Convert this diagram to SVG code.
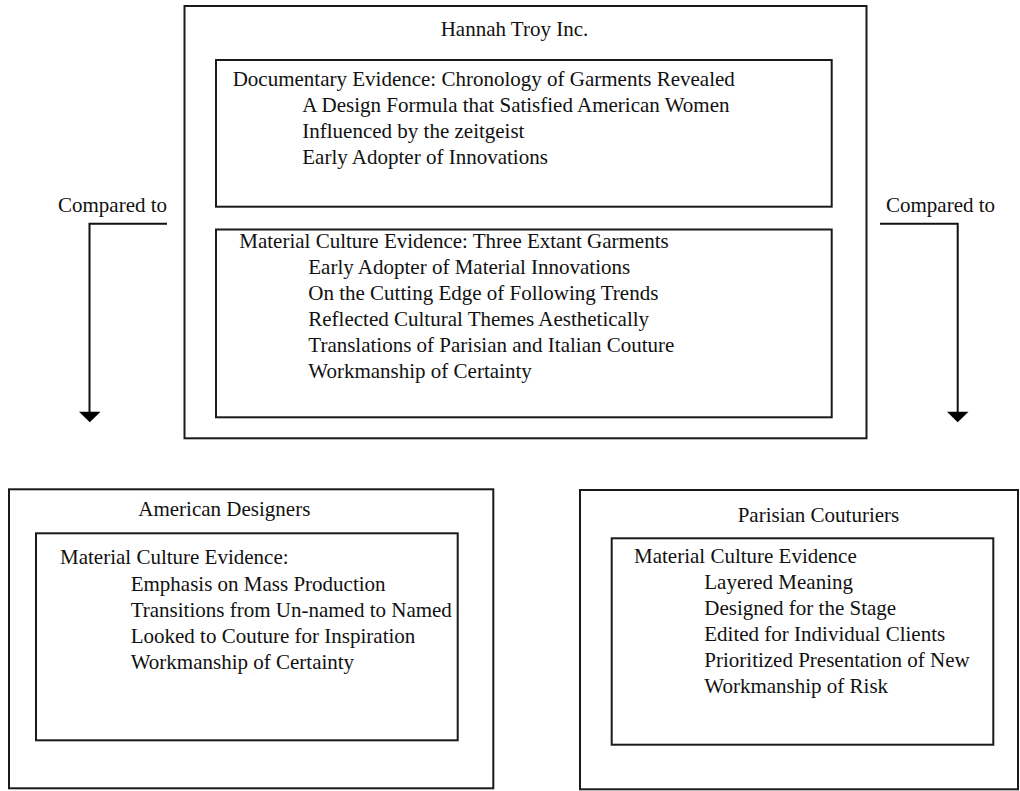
<svg xmlns="http://www.w3.org/2000/svg" width="1020" height="791" viewBox="0 0 1020 791">
  <defs>
    <style>
      .box { fill: none; stroke: #1a1a1a; stroke-width: 2; }
      .wire { fill: none; stroke: #111; stroke-width: 2; }
      .head { fill: #000; stroke: none; }
      text { font-family: "Liberation Serif", "Times New Roman", serif; font-size: 21px; fill: #111; }
    </style>
  </defs>
  <rect width="1020" height="791" fill="#fff"/>

  <g id="connectors">
    <polyline class="wire" points="167,223.7 89.5,223.7 89.5,413"/>
    <polygon class="head" points="79,411.7 100.5,411.7 89.8,422.3"/>
    <polyline class="wire" points="880,223.7 957.7,223.7 957.7,413"/>
    <polygon class="head" points="947,411.7 968.5,411.7 957.7,422.3"/>
    <text x="58" y="212">Compared to</text>
    <text x="886" y="212">Compared to</text>
  </g>

  <g id="hannah-troy">
    <rect class="box" x="184.5" y="6" width="682" height="432.3"/>
    <text x="440.7" y="36">Hannah Troy Inc.</text>
  </g>

  <g id="documentary-evidence">
    <rect class="box" x="216" y="60" width="615.7" height="146.7"/>
    <text x="232.7" y="86">Documentary Evidence: Chronology of Garments Revealed</text>
    <text x="302.3" y="112.3">A Design Formula that Satisfied American Women</text>
    <text x="302.3" y="138.3">Influenced by the zeitgeist</text>
    <text x="302.3" y="164.3">Early Adopter of Innovations</text>
  </g>

  <g id="material-evidence-troy">
    <rect class="box" x="216" y="229.5" width="615.7" height="187.8"/>
    <text x="239.3" y="247.7">Material Culture Evidence: Three Extant Garments</text>
    <text x="308.3" y="273.7">Early Adopter of Material Innovations</text>
    <text x="308.3" y="299.7">On the Cutting Edge of Following Trends</text>
    <text x="308.3" y="325.7">Reflected Cultural Themes Aesthetically</text>
    <text x="308.3" y="351.7">Translations of Parisian and Italian Couture</text>
    <text x="308.3" y="377.7">Workmanship of Certainty</text>
  </g>

  <g id="american-designers">
    <rect class="box" x="9" y="489.3" width="484.3" height="299"/>
    <text x="138.3" y="516">American Designers</text>
  </g>

  <g id="material-evidence-american">
    <rect class="box" x="36" y="533.3" width="421.7" height="207"/>
    <text x="60" y="564.3">Material Culture Evidence:</text>
    <text x="130.7" y="590.7">Emphasis on Mass Production</text>
    <text x="130.7" y="616.7">Transitions from Un-named to Named</text>
    <text x="130.7" y="642.7">Looked to Couture for Inspiration</text>
    <text x="130.7" y="668.7">Workmanship of Certainty</text>
  </g>

  <g id="parisian-couturiers">
    <rect class="box" x="580" y="490" width="438" height="299.3"/>
    <text x="737.7" y="521.7">Parisian Couturiers</text>
  </g>

  <g id="material-evidence-parisian">
    <rect class="box" x="611.7" y="538.3" width="381.6" height="206.4"/>
    <text x="634" y="562.7">Material Culture Evidence</text>
    <text x="704.3" y="589">Layered Meaning</text>
    <text x="704.3" y="615">Designed for the Stage</text>
    <text x="704.3" y="641">Edited for Individual Clients</text>
    <text x="704.3" y="667">Prioritized Presentation of New</text>
    <text x="704.3" y="693">Workmanship of Risk</text>
  </g>
</svg>
